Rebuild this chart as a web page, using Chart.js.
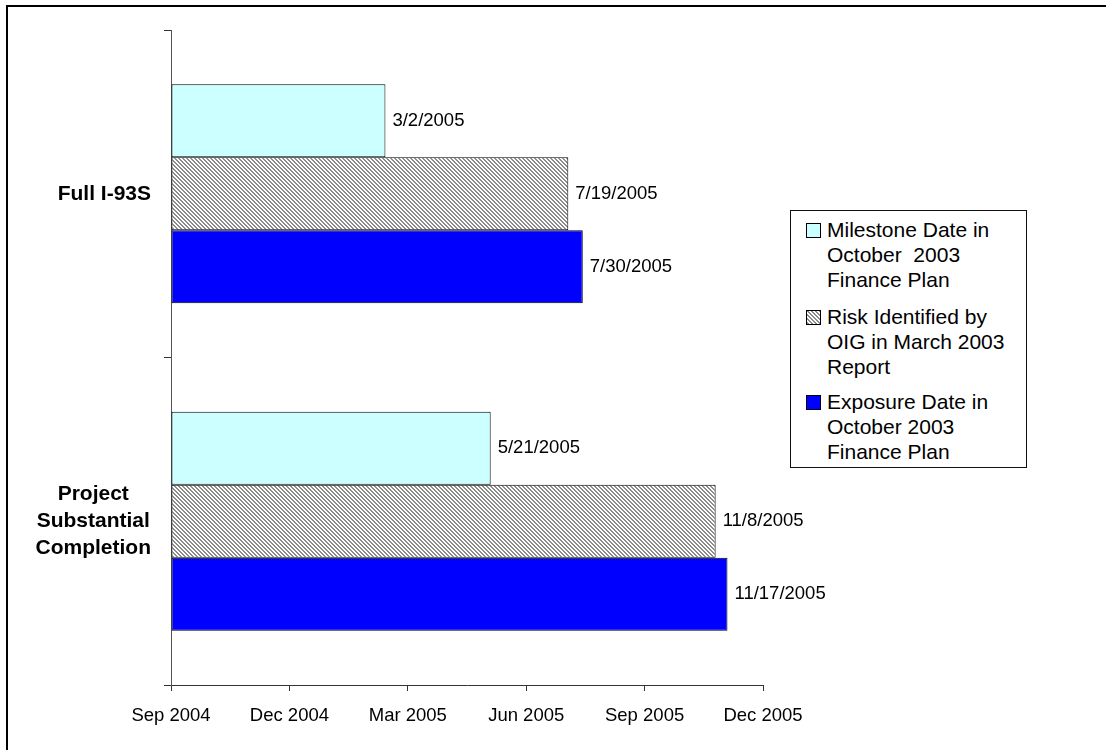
<!DOCTYPE html>
<html>
<head>
<meta charset="utf-8">
<script src="https://cdn.jsdelivr.net/npm/chart.js@4.4.0/dist/chart.umd.min.js"></script>
<style>
html,body{margin:0;padding:0;background:#fff;overflow:hidden;}
#wrap{position:relative;width:1106px;height:750px;overflow:hidden;}
#frame{position:absolute;left:6px;top:5px;width:1130px;height:780px;border:2.5px solid #000;box-sizing:border-box;pointer-events:none;}
#c{position:absolute;left:0;top:0;}
#legend{position:absolute;left:790px;top:210px;width:237px;height:258px;border:1px solid #111;box-sizing:border-box;background:#fff;
  font-family:"Liberation Sans",Arial,Helvetica,sans-serif;font-size:21px;line-height:25px;color:#000;}
.item{position:absolute;left:36px;white-space:nowrap;}
.sw{position:absolute;left:-21px;top:6px;width:13px;height:13px;border:1px solid #000;box-sizing:content-box;}
</style>
</head>
<body>
<div id="wrap">
  <canvas id="c" width="1106" height="750"></canvas>
  <div id="legend"></div>
  <div id="frame"></div>
</div>
<script>
// ---------------- data ----------------
const axisOriginDate = '9/20/2004';      // first axis value (shown as "Sep 2004")
const axisSpanDays = 450;
const tickStepDays = 90;
const tickLabels = ['Sep 2004', 'Dec 2004', 'Mar 2005', 'Jun 2005', 'Sep 2005', 'Dec 2005'];
const categories = [['Full I-93S'], ['Project', 'Substantial', 'Completion']];
const seriesNames = [
  ['Milestone Date in', 'October\u00a0 2003', 'Finance Plan'],
  ['Risk Identified by', 'OIG in March 2003', 'Report'],
  ['Exposure Date in', 'October 2003', 'Finance Plan']
];
const milestoneDates = ['3/2/2005', '5/21/2005'];
const riskDates = ['7/19/2005', '11/8/2005'];
const exposureDates = ['7/30/2005', '11/17/2005'];

// ---------------- helpers ----------------
function dayNumber(s) {
  const p = s.split('/').map(Number);
  return Date.UTC(p[2], p[0] - 1, p[1]) / 86400000;
}
const origin = dayNumber(axisOriginDate);
const toOffsets = arr => arr.map(d => dayNumber(d) - origin);

// hatch pattern
const pc = document.createElement('canvas');
pc.width = 8; pc.height = 8;
const pctx = pc.getContext('2d');
const img = pctx.createImageData(8, 8);
for (let y = 0; y < 8; y++) for (let x = 0; x < 8; x++) {
  const k = (y * 8 + x) * 4;
  const on = (((x - y) % 4) + 4) % 4 < 2;
  const v = on ? 140 : 255;
  img.data[k] = v; img.data[k + 1] = v; img.data[k + 2] = v; img.data[k + 3] = 255;
}
pctx.putImageData(img, 0, 0);
const ctx = document.getElementById('c').getContext('2d');
const hatch = ctx.createPattern(pc, 'repeat');

const FONT = '"Liberation Sans", Arial, Helvetica, sans-serif';
const fills = ['#CCFFFF', hatch, '#0000FF'];
const swatchCss = ['background:#CCFFFF', 'background-image:url(' + pc.toDataURL() + ')', 'background:#0000FF'];
const dateSets = [milestoneDates, riskDates, exposureDates];

// legend (HTML)
const legendTops = [5.5, 92.5, 177.5];
const leg = document.getElementById('legend');
seriesNames.forEach((lines, i) => {
  const d = document.createElement('div');
  d.className = 'item';
  d.style.top = legendTops[i] + 'px';
  d.innerHTML = '<span class="sw" style="' + swatchCss[i] + '"></span>' + lines.join('<br>');
  leg.appendChild(d);
});

// plugins
const valueLabels = {
  id: 'valueLabels',
  afterDatasetsDraw(chart) {
    const c = chart.ctx;
    c.save();
    c.font = '18.5px ' + FONT;
    c.fillStyle = '#000';
    c.textAlign = 'left';
    c.textBaseline = 'middle';
    chart.data.datasets.forEach((ds, di) => {
      chart.getDatasetMeta(di).data.forEach((el, i) => {
        c.fillText(dateSets[di][i], el.x + 7, el.y);
      });
    });
    c.restore();
  }
};
const catLabels = {
  id: 'catLabels',
  afterDraw(chart) {
    const c = chart.ctx;
    const ys = chart.scales.y;
    c.save();
    c.font = 'bold 21px ' + FONT;
    c.fillStyle = '#000';
    c.textAlign = 'center';
    c.textBaseline = 'middle';
    const lh = 27, right = 151;
    categories.forEach((lines, i) => {
      const cy = ys.getPixelForValue(i);
      const w = Math.max(...lines.map(l => c.measureText(l).width));
      const cx = right - w / 2;
      const y0 = cy - (lines.length - 1) * lh / 2;
      lines.forEach((l, j) => c.fillText(l, cx, y0 + j * lh));
    });
    c.restore();
  }
};

new Chart(ctx, {
  type: 'bar',
  data: {
    labels: categories,
    datasets: seriesNames.map((n, i) => ({
      label: n.join(' '),
      data: toOffsets(dateSets[i]),
      backgroundColor: fills[i],
      borderColor: '#000',
      borderWidth: 1,
      borderSkipped: false,
      barPercentage: 1,
      categoryPercentage: 0.669
    }))
  },
  options: {
    responsive: false,
    animation: false,
    indexAxis: 'y',
    layout: { padding: { left: 0, top: 30, right: 343, bottom: 0 } },
    plugins: { legend: { display: false }, tooltip: { enabled: false } },
    scales: {
      x: {
        type: 'linear', position: 'bottom', min: 0, max: axisSpanDays,
        ticks: {
          stepSize: tickStepDays, autoSkip: false, maxRotation: 0, padding: 14,
          color: '#000', font: { family: FONT, size: 18.5 },
          callback: (v, i) => tickLabels[i]
        },
        grid: { drawOnChartArea: false, drawTicks: true, tickLength: 6, color: '#333' },
        border: { display: true, color: '#333', width: 1 },
        afterFit: s => { s.height = 65; }
      },
      y: {
        type: 'category', offset: true,
        ticks: { display: false },
        grid: { drawOnChartArea: false, drawTicks: true, tickLength: 7, offset: true, color: '#333' },
        border: { display: true, color: '#555', width: 1 },
        afterFit: s => { s.width = 171; }
      }
    }
  },
  plugins: [valueLabels, catLabels]
});
</script>
</body>
</html>
